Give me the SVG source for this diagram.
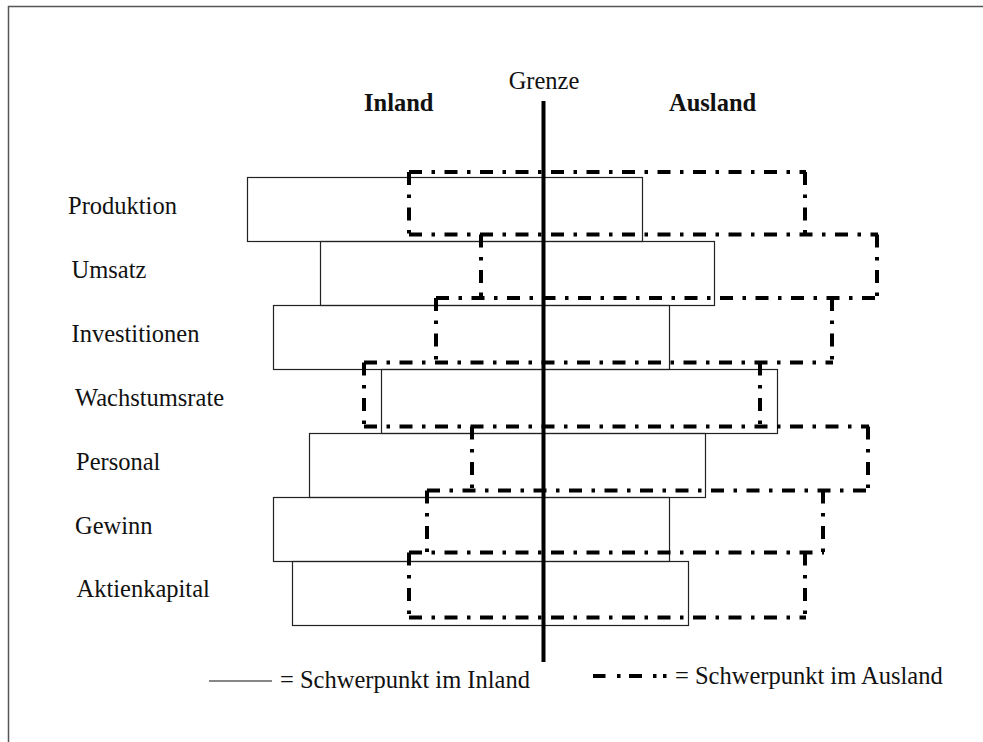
<svg xmlns="http://www.w3.org/2000/svg" width="983" height="742" viewBox="0 0 983 742">
  <style>
    .lbl { font-family: "Liberation Serif", "Times New Roman", serif; font-size: 24.5px; fill: #111; }
    .hd { font-family: "Liberation Serif", "Times New Roman", serif; font-size: 24.5px; font-weight: bold; fill: #111; }
    .inl { fill: none; stroke: #222; stroke-width: 1.2; }
    .aus { fill: none; stroke: #000; stroke-width: 4; stroke-dasharray: 13 9.5 3.5 9.5; }
  </style>
  <rect x="0" y="0" width="983" height="742" fill="#fff"/>
  <!-- outer frame (left and top edges visible) -->
  <path d="M8.5,745 V6.5 H990" fill="none" stroke="#555" stroke-width="1.5"/>

  <!-- headings -->
  <text class="lbl" x="544" y="89" text-anchor="middle">Grenze</text>
  <text class="hd" x="364" y="111">Inland</text>
  <text class="hd" x="669" y="111">Ausland</text>

  <!-- Each row: label, domestic (solid) bar, foreign (dash-dot) bar.
       Dash-dot bars share their horizontal edges with the neighbouring row,
       so each shared edge is drawn once, spanning both bars. -->

  <g id="produktion">
    <text class="lbl" x="68" y="214">Produktion</text>
    <rect class="inl" x="247.5" y="177.5" width="395" height="64"/>
    <path class="aus" d="M409,172 H806"/>
    <path class="aus" d="M409,172 V234.5 M805,172 V234.5"/>
  </g>

  <g id="umsatz">
    <text class="lbl" x="71.5" y="278">Umsatz</text>
    <rect class="inl" x="320.5" y="241.5" width="394" height="64"/>
    <path class="aus" d="M409,234.5 H878"/>
    <path class="aus" d="M481,234.5 V298 M877,234.5 V298"/>
  </g>

  <g id="investitionen">
    <text class="lbl" x="71.5" y="342">Investitionen</text>
    <rect class="inl" x="273.5" y="305.5" width="396" height="64"/>
    <path class="aus" d="M436,298 H878"/>
    <path class="aus" d="M436,298 V362.5 M832,298 V362.5"/>
  </g>

  <g id="wachstumsrate">
    <text class="lbl" x="75" y="406">Wachstumsrate</text>
    <rect class="inl" x="381.5" y="369.5" width="396" height="64"/>
    <path class="aus" d="M364,362.5 H833"/>
    <path class="aus" d="M364,362.5 V426.5 M760,362.5 V426.5"/>
  </g>

  <g id="personal">
    <text class="lbl" x="76" y="470">Personal</text>
    <rect class="inl" x="309.5" y="433.5" width="396" height="64"/>
    <path class="aus" d="M364,426.5 H869"/>
    <path class="aus" d="M472,426.5 V490.5 M868,426.5 V490.5"/>
  </g>

  <g id="gewinn">
    <text class="lbl" x="75" y="534">Gewinn</text>
    <rect class="inl" x="273.5" y="497.5" width="396" height="64"/>
    <path class="aus" d="M427,490.5 H869"/>
    <path class="aus" d="M427,490.5 V552.5 M823,490.5 V552.5"/>
  </g>

  <g id="aktienkapital">
    <text class="lbl" x="76.5" y="597">Aktienkapital</text>
    <rect class="inl" x="292.5" y="561.5" width="396" height="64"/>
    <path class="aus" d="M409,552.5 H824"/>
    <path class="aus" d="M409,552.5 V617.5 M805,552.5 V617.5"/>
    <path class="aus" d="M409,617.5 H806"/>
  </g>

  <!-- border line between domestic and foreign -->
  <g id="connectors">
    <line id="grenze" x1="543.5" y1="101" x2="543.5" y2="662" stroke="#000" stroke-width="4"/>
  </g>

  <!-- legend -->
  <g id="legend">
    <line x1="209" y1="681" x2="272" y2="681" stroke="#111" stroke-width="1.2"/>
    <text class="lbl" x="280" y="688">= Schwerpunkt im Inland</text>
    <path d="M593,676 h12.5 M617,676 h3.5 M629,676 h13 M653,676 h3.5 M663,676 h3.5" stroke="#000" stroke-width="4" fill="none"/>
    <text class="lbl" x="675" y="684">= Schwerpunkt im Ausland</text>
  </g>
</svg>
